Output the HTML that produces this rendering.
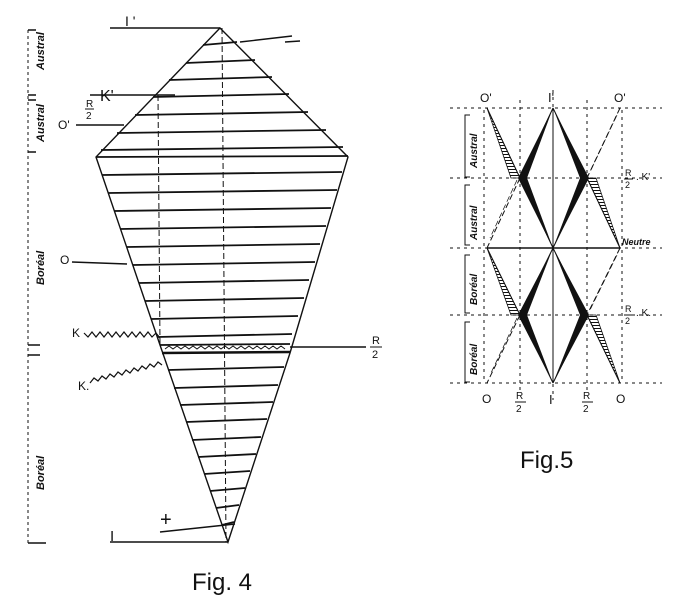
<!DOCTYPE html>
<html><head><meta charset="utf-8"><style>
html,body{margin:0;padding:0;background:#fff}
svg{display:block}
text{font-family:"Liberation Sans",sans-serif;fill:#111}
</style></head><body>
<svg width="692" height="616" viewBox="0 0 692 616" xmlns="http://www.w3.org/2000/svg">
<defs>
<pattern id="h" width="3" height="3" patternUnits="userSpaceOnUse">
<line x1="0" y1="1.5" x2="3" y2="1.5" stroke="#111" stroke-width="1"/>
</pattern>
</defs>
<g stroke="#111" fill="none" stroke-width="1.4">
<path d="M220,28 L96,157 L160,345 L228,542 L290,353 L348,157 Z"/>
<line x1="222" y1="28" x2="226" y2="542" stroke-dasharray="6,3" stroke-width="1"/>
<line x1="158" y1="95" x2="160" y2="345" stroke-dasharray="6,3" stroke-width="1"/>
<line x1="110" y1="28" x2="220" y2="28"/>
<line x1="240" y1="42" x2="292" y2="36"/><line x1="285" y1="42" x2="300" y2="41"/>
<line x1="90" y1="95" x2="175" y2="95"/>
<line x1="76" y1="125" x2="124" y2="125"/>
<line x1="72" y1="262" x2="127" y2="264"/>
<line x1="110" y1="542" x2="228" y2="542"/>
<line x1="160" y1="532" x2="235" y2="524"/>
<line x1="290" y1="347" x2="366" y2="347"/>
<g stroke-width="1.8">
<line x1="203" y1="45" x2="237" y2="42"/>
<line x1="186" y1="63" x2="255" y2="60"/>
<line x1="169" y1="80" x2="272" y2="77"/>
<line x1="153" y1="97" x2="289" y2="94"/>
<line x1="135" y1="115" x2="308" y2="112"/>
<line x1="117" y1="133" x2="326" y2="130"/>
<line x1="101" y1="150" x2="343" y2="147"/>
<line x1="96" y1="157" x2="348" y2="156"/>
<line x1="102" y1="175" x2="342" y2="172"/>
<line x1="108" y1="193" x2="337" y2="190"/>
<line x1="114" y1="211" x2="331" y2="208"/>
<line x1="120" y1="229" x2="326" y2="226"/>
<line x1="127" y1="247" x2="320" y2="244"/>
<line x1="133" y1="265" x2="315" y2="262"/>
<line x1="139" y1="283" x2="309" y2="280"/>
<line x1="145" y1="301" x2="304" y2="298"/>
<line x1="151" y1="319" x2="298" y2="316"/>
<line x1="157" y1="337" x2="292" y2="334"/>
<line x1="160" y1="345" x2="290" y2="344"/>
<line x1="162" y1="353" x2="290" y2="352" stroke-width="2.5"/>
<line x1="168" y1="370" x2="284" y2="367"/>
<line x1="174" y1="388" x2="278" y2="385"/>
<line x1="180" y1="405" x2="273" y2="402"/>
<line x1="186" y1="422" x2="267" y2="419"/>
<line x1="192" y1="440" x2="261" y2="437"/>
<line x1="198" y1="457" x2="256" y2="454"/>
<line x1="204" y1="474" x2="250" y2="471"/>
<line x1="210" y1="491" x2="245" y2="488"/>
<line x1="216" y1="508" x2="239" y2="505"/>
<line x1="222" y1="525" x2="234" y2="522"/>
</g>
<path d="M165,349 l4,-3 4,3 4,-3 4,3 4,-3 4,3 4,-3 4,3 4,-3 4,3 4,-3 4,3 4,-3 4,3 4,-3 4,3 4,-3 4,3 4,-3 4,3 4,-3 4,3 4,-3 4,3 4,-3 4,3 4,-3 4,3 4,-3 4,3" stroke-width="1"/>
<path d="M84,333 l4,4 4,-5 4,5 4,-5 4,5 4,-5 4,5 4,-5 4,5 4,-5 4,5 4,-5 4,5 4,-5 4,5 4,-5 4,5 4,-4 4,5" stroke-width="1.2"/>
<path d="M90,383 l4,-5 4,3 4,-5 4,3 4,-5 4,3 4,-5 4,3 4,-5 4,3 4,-5 4,3 4,-5 4,3 4,-5 4,3 4,-5 4,3" stroke-width="1.2"/>
<line x1="28" y1="30" x2="28" y2="543" stroke-dasharray="3,3" stroke-width="1"/>
<path d="M28,30 h8 M28,95 h8 M28,100 h8 M28,152 h8 M28,345 h12 M28,355 h12 M28,543 h18"/>
<!-- Fig5 -->
<g stroke-dasharray="3,4" stroke-width="1">
<line x1="450" y1="108" x2="662" y2="108"/>
<line x1="450" y1="178" x2="662" y2="178"/>
<line x1="450" y1="248" x2="662" y2="248"/>
<line x1="450" y1="315" x2="662" y2="315"/>
<line x1="450" y1="383" x2="662" y2="383"/>
<line x1="520" y1="100" x2="520" y2="392"/>
<line x1="587" y1="100" x2="587" y2="392"/>
<line x1="553" y1="90" x2="553" y2="400"/>
<line x1="484" y1="110" x2="484" y2="383"/>
<line x1="622" y1="110" x2="622" y2="383"/>
</g>
<line x1="487" y1="248" x2="620" y2="248" stroke-width="1.5"/>
<g stroke-width="1">
<path d="M487,108 L520,178 M520,178 L553,248 M553,108 L520,178 M587,178 L553,248 M553,108 L587,178 M587,178 L620,248"/>
<path d="M487,248 L520,315 M520,315 L553,383 M553,248 L520,315 M587,315 L553,383 M553,248 L587,315 M587,315 L620,383"/>
<line x1="553" y1="108" x2="553" y2="383"/>
</g>
<g stroke-width="1" stroke-dasharray="6,3">
<path d="M520,178 L487,248 M620,108 L587,178 M520,315 L487,383 M620,248 L587,315"/>
<path d="M517,180 L490,238 M617,115 L590,172 M517,318 L490,375 M617,255 L590,310" stroke-width="0.7"/>
</g>
</g>
<g fill="url(#h)" stroke="#111" stroke-width="0.8">
<path d="M487,108 L520,178 L511,178 Z"/>
<path d="M587,178 L596,178 L620,248 Z"/>
<path d="M487,248 L520,315 L511,315 Z"/>
<path d="M587,315 L596,315 L620,383 Z"/>
</g>
<g fill="#111" stroke="none">
<path d="M553,108 L518,178 L527,178 Z"/><path d="M518,178 L553,248 L527,178 Z"/>
<path d="M553,108 L589,178 L580,178 Z"/><path d="M589,178 L553,248 L580,178 Z"/>
<path d="M553,383 L518,315 L527,315 Z"/><path d="M518,315 L553,248 L527,315 Z"/>
<path d="M553,383 L589,315 L580,315 Z"/><path d="M589,315 L553,248 L580,315 Z"/>
</g>
<g stroke="#111" stroke-width="1" fill="none">
<path d="M470,115 h-5 v62 h5 M470,185 h-5 v60 h5 M470,255 h-5 v58 h5 M470,322 h-5 v60 h5"/>
</g>
<g font-size="14">
<text x="125" y="26">I '</text>
<text x="86" y="107" font-size="10">R</text><line x1="85" y1="109" x2="94" y2="109" stroke="#111"/>
<text x="86" y="119" font-size="10">2</text>
<text x="100" y="101" font-family="Liberation Serif" font-size="16">K'</text>
<text x="58" y="129" font-size="12">O'</text>
<text x="60" y="264" font-size="12">O</text>
<text x="72" y="337" font-size="12">K</text>
<text x="78" y="390" font-size="12">K.</text>
<text x="372" y="344" font-size="11">R</text><line x1="370" y1="347" x2="382" y2="347" stroke="#111"/>
<text x="372" y="358" font-size="11">2</text>
<text x="110" y="541" font-family="Liberation Serif" font-size="15">I</text>
<text x="160" y="526" font-size="20">+</text>
<text x="192" y="590" font-size="24">Fig. 4</text>
<g font-style="italic" font-weight="bold" font-size="11">
<text transform="translate(44,70) rotate(-90)">Austral</text>
<text transform="translate(44,142) rotate(-90)">Austral</text>
<text transform="translate(44,285) rotate(-90)">Boréal</text>
<text transform="translate(44,490) rotate(-90)">Boréal</text>
<text transform="translate(477,168) rotate(-90)" font-size="10">Austral</text>
<text transform="translate(477,240) rotate(-90)" font-size="10">Austral</text>
<text transform="translate(477,305) rotate(-90)" font-size="10">Boréal</text>
<text transform="translate(477,375) rotate(-90)" font-size="10">Boréal</text>
<text x="622" y="245" font-size="9">Neutre</text>
</g>
<text x="480" y="102" font-size="12">O'</text>
<text x="548" y="102" font-size="13">I'</text>
<text x="614" y="102" font-size="12">O'</text>
<text x="625" y="176" font-size="9">R</text><line x1="624" y1="179" x2="633" y2="179" stroke="#111"/>
<text x="625" y="188" font-size="9">2</text>
<text x="636" y="180" font-size="10">. K'</text>
<text x="625" y="312" font-size="9">R</text><line x1="624" y1="315" x2="633" y2="315" stroke="#111"/>
<text x="625" y="324" font-size="9">2</text>
<text x="636" y="316" font-size="10">. K.</text>
<text x="482" y="403" font-size="12">O</text>
<text x="516" y="399" font-size="10">R</text><line x1="515" y1="402" x2="526" y2="402" stroke="#111"/>
<text x="516" y="412" font-size="10">2</text>
<text x="549" y="404" font-size="13">I</text>
<text x="583" y="399" font-size="10">R</text><line x1="582" y1="402" x2="593" y2="402" stroke="#111"/>
<text x="583" y="412" font-size="10">2</text>
<text x="616" y="403" font-size="12">O</text>
<text x="520" y="468" font-size="24">Fig.5</text>
</g>
</svg>
</body></html>
